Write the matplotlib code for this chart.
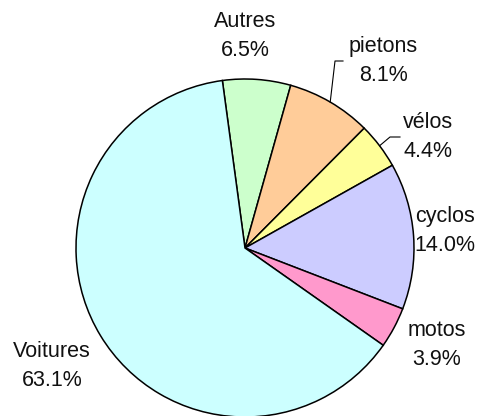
import matplotlib.pyplot as plt
import numpy as np

plt.rcParams['font.family'] = ['Liberation Sans', 'DejaVu Sans']

# parts des accidents par type d'usager
categories = ["Autres", "pietons", "vélos", "cyclos", "motos", "Voitures"]
parts = [6.5, 8.1, 4.4, 14.0, 3.9, 63.1]
couleurs = ["#CCFFCC", "#FFCC99", "#FFFF99", "#CCCCFF", "#FF99CC", "#CCFFFF"]

W, H = 492, 416
fig = plt.figure(figsize=(W / 100, H / 100), dpi=100)
ax = fig.add_axes([0, 0, 1, 1])
ax.set_xlim(0, W)
ax.set_ylim(0, H)
ax.set_aspect('equal')
ax.axis('off')

cx, cy, r = 245, H - 248, 169
wedges, _ = ax.pie(parts, colors=couleurs, startangle=97.7, counterclock=False,
                   center=(cx, cy), radius=r,
                   wedgeprops=dict(edgecolor='black', linewidth=1.1))
ax.set_xlim(0, W)
ax.set_ylim(0, H)

# position des étiquettes (centre du bloc de texte, en pixels depuis le haut)
label_pos = {
    "Autres": (245, 36),
    "pietons": (383, 61),
    "vélos": (428, 137),
    "cyclos": (445, 231),
    "motos": (437, 345),
    "Voitures": (52, 366),
}

for w, cat, p in zip(wedges, categories, parts):
    x, y = label_pos[cat]
    ax.text(x, H - y, f"{cat}\n{p:.1f}%", ha='center', va='center',
            fontsize=15.5, linespacing=1.55, color='#111111')

# traits de rappel pour pietons et vélos
for cat in ["pietons", "vélos"]:
    i = categories.index(cat)
    w = wedges[i]
    mid = np.deg2rad((w.theta1 + w.theta2) / 2)
    ex, ey = cx + r * np.cos(mid), cy + r * np.sin(mid)
    lx, ly = label_pos[cat]
    ly = H - ly
    if cat == "pietons":
        pts = [(ex, ey), (lx - 48, ly), (lx - 40, ly)]
    else:
        pts = [(ex, ey), (lx - 38, ly), (lx - 28, ly)]
    xs, ys = zip(*pts)
    ax.plot(xs, ys, color='black', linewidth=0.8)

fig.savefig("out.png", dpi=100)
